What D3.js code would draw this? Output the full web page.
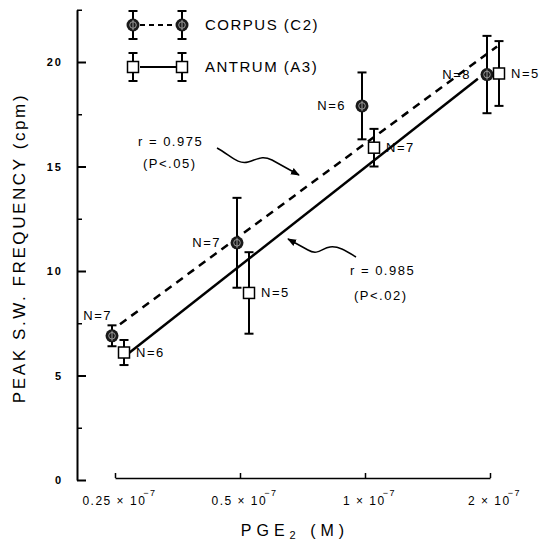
<!DOCTYPE html>
<html>
<head>
<meta charset="utf-8">
<script src="https://cdn.jsdelivr.net/npm/d3@7"></script>
<style>
body { margin: 0; background: #fff; }
svg { display: block; font-family: "Liberation Sans", Arial, sans-serif; }
</style>
</head>
<body>
<svg id="chart" width="545" height="553"></svg>
<script>
// Values
const doses = [0.25, 0.5, 1, 2];
const doseLabels = ["0.25", "0.5", "1", "2"];
const corpusMean = [6.9, 11.35, 17.9, 19.4];
const corpusErr = [0.5, 2.15, 1.6, 1.85];
const corpusN = [7, 7, 6, 8];
const antrumMean = [6.1, 8.95, 15.9, 19.45];
const antrumErr = [0.6, 1.95, 0.9, 1.55];
const antrumN = [6, 5, 7, 5];
const yMajor = [0, 5, 10, 15, 20];
const yMinor = [2.5, 7.5, 12.5, 17.5, 22.5];
const corpusStats = ["r = 0.975", "(P<.05)"];
const antrumStats = ["r = 0.985", "(P<.02)"];
const corpusFitRange = [0.257, 2.08];
const antrumFitRange = [0.264, 1.87];

const svg = d3.select("#chart");
svg.append("rect").attr("width", 545).attr("height", 553).attr("fill", "#fff");

const x = d3.scaleLog().base(2).domain([0.25, 2]).range([115, 490]);
const y = d3.scaleLinear().domain([0, 22.5]).range([480, 9.75]);

// least squares on log2(dose)
function fit(xs, ys) {
    const lx = xs.map(Math.log2);
    const mx = d3.mean(lx), my = d3.mean(ys);
    const b = d3.sum(lx, (v, i) => (v - mx) * (ys[i] - my)) / d3.sum(lx, v => (v - mx) ** 2);
    const a = my - b * mx;
    return d => a + b * Math.log2(d);
}

// Y axis
const yAxis = svg.append("g")
    .attr("transform", "translate(77,0)")
    .call(d3.axisLeft(y).tickValues(yMajor).tickSizeInner(-9).tickSizeOuter(0).tickPadding(14));
yAxis.select(".domain").attr("stroke-width", 2);
yAxis.selectAll(".tick line").attr("stroke-width", 2);
yAxis.selectAll("text")
    .style("font-size", "11px").style("font-weight", "bold").style("letter-spacing", "2px");

svg.append("g")
    .attr("transform", "translate(77,0)")
    .call(d3.axisLeft(y).tickValues(yMinor).tickSizeInner(-5).tickSizeOuter(0).tickFormat(""))
    .call(g => g.select(".domain").remove())
    .selectAll(".tick line").attr("stroke-width", 1.5);

// X axis
const xAxis = svg.append("g")
    .attr("transform", "translate(0,478)")
    .call(d3.axisBottom(x).tickValues(doses).tickSizeInner(-5).tickSizeOuter(0).tickFormat(""));
xAxis.select(".domain").attr("stroke-width", 1.5);
xAxis.selectAll(".tick line").attr("stroke-width", 1.5);
xAxis.selectAll(".tick").append("text")
    .attr("y", 27)
    .attr("x", 4)
    .attr("fill", "#000")
    .attr("text-anchor", "middle")
    .style("font-size", "12px")
    .style("letter-spacing", "1.5px")
    .each(function(d, i) {
        const t = d3.select(this);
        t.append("tspan").text(doseLabels[i] + " \u00d7 10");
        t.append("tspan").attr("dy", -9).attr("dx", -3).style("font-size", "9px").text("\u22127");
    });

// axis titles
svg.append("text")
    .attr("transform", "translate(25,248) rotate(-90)")
    .attr("text-anchor", "middle")
    .style("font-size", "17px")
    .style("letter-spacing", "2.6px")
    .text("PEAK S.W. FREQUENCY (cpm)");

svg.append("text")
    .attr("x", 295).attr("y", 536)
    .attr("text-anchor", "middle")
    .style("font-size", "16px")
    .style("letter-spacing", "5px")
    .html('PGE<tspan dy="3" style="font-size:11px">2</tspan><tspan dy="-3"> (M)</tspan>');

// regression lines
const corpusFit = fit(doses, corpusMean);
const antrumFit = fit(doses, antrumMean);

svg.append("line")
    .attr("x1", x(corpusFitRange[0])).attr("y1", y(corpusFit(corpusFitRange[0])))
    .attr("x2", x(corpusFitRange[1])).attr("y2", y(corpusFit(corpusFitRange[1])))
    .attr("stroke", "#000").attr("stroke-width", 2.5).attr("stroke-dasharray", "8,6");

svg.append("line")
    .attr("x1", x(antrumFitRange[0])).attr("y1", y(antrumFit(antrumFitRange[0])))
    .attr("x2", x(antrumFitRange[1])).attr("y2", y(antrumFit(antrumFitRange[1])))
    .attr("stroke", "#000").attr("stroke-width", 2.5);

// error bars
function errorBar(g, cx, top, bottom) {
    g.append("line").attr("x1", cx).attr("x2", cx).attr("y1", top).attr("y2", bottom)
        .attr("stroke", "#000").attr("stroke-width", 2);
    [top, bottom].forEach(v => {
        g.append("line").attr("x1", cx - 4.5).attr("x2", cx + 4.5).attr("y1", v).attr("y2", v)
            .attr("stroke", "#000").attr("stroke-width", 2);
    });
}

function corpusMark(g, cx, cy) {
    g.append("circle").attr("cx", cx).attr("cy", cy).attr("r", 6.5).attr("fill", "#1a1a1a");
    g.append("circle").attr("cx", cx).attr("cy", cy).attr("r", 3.3)
        .attr("fill", "none").attr("stroke", "#999").attr("stroke-width", 1);
    g.append("line").attr("x1", cx).attr("x2", cx).attr("y1", cy - 5).attr("y2", cy + 5)
        .attr("stroke", "#999").attr("stroke-width", 1);
}

function antrumMark(g, cx, cy) {
    g.append("rect").attr("x", cx - 5.5).attr("y", cy - 5.5).attr("width", 11).attr("height", 11)
        .attr("fill", "#fff").attr("stroke", "#000").attr("stroke-width", 1.5);
}

const corpusDx = -3, antrumDx = 9;
const labelStyle = sel => sel.style("font-size", "13px").style("letter-spacing", "1.5px");

const corpusG = svg.append("g");
doses.forEach((d, i) => {
    const cx = x(d) + corpusDx;
    errorBar(corpusG, cx, y(corpusMean[i] + corpusErr[i]), y(corpusMean[i] - corpusErr[i]));
    corpusMark(corpusG, cx, y(corpusMean[i]));
    corpusG.append("text")
        .attr("x", i === 0 ? cx : cx - 16)
        .attr("y", y(corpusMean[i]) + (i === 0 ? -20 : 0))
        .attr("dy", "0.35em")
        .attr("text-anchor", "end")
        .call(labelStyle)
        .text("N=" + corpusN[i]);
});

const antrumG = svg.append("g");
doses.forEach((d, i) => {
    const cx = x(d) + antrumDx;
    errorBar(antrumG, cx, y(antrumMean[i] + antrumErr[i]), y(antrumMean[i] - antrumErr[i]));
    antrumMark(antrumG, cx, y(antrumMean[i]));
    antrumG.append("text")
        .attr("x", cx + 12)
        .attr("y", y(antrumMean[i]))
        .attr("dy", "0.35em")
        .call(labelStyle)
        .text("N=" + antrumN[i]);
});

// r / P annotations with wavy arrows
svg.append("defs").append("marker")
    .attr("id", "head")
    .attr("viewBox", "0 0 10 10")
    .attr("refX", 9).attr("refY", 5)
    .attr("markerWidth", 6).attr("markerHeight", 6)
    .attr("orient", "auto-start-reverse")
    .append("path").attr("d", "M0,1 L10,5 L0,9 Z").attr("fill", "#000");

svg.append("path")
    .attr("d", "M217,148 C230,155 238,165 248,162 C258,159 262,155 272,160 L299,175")
    .attr("fill", "none").attr("stroke", "#000").attr("stroke-width", 1.5)
    .attr("marker-end", "url(#head)");

svg.append("path")
    .attr("d", "M356,257 C345,250 338,246 330,247 C322,248 318,256 308,250 L288,239")
    .attr("fill", "none").attr("stroke", "#000").attr("stroke-width", 1.5)
    .attr("marker-end", "url(#head)");

corpusStats.forEach((s, i) => {
    svg.append("text").attr("x", 138 + i * 5).attr("y", 146 + i * 22)
        .style("font-size", "13px").style("letter-spacing", "1.5px").text(s);
});
antrumStats.forEach((s, i) => {
    svg.append("text").attr("x", 350 + i * 4).attr("y", 275 + i * 25)
        .style("font-size", "13px").style("letter-spacing", "1.5px").text(s);
});

// legend
const legend = svg.append("g");
const legendRows = [
    { name: "CORPUS (C2)", mark: corpusMark, dash: "5,4", cy: 25 },
    { name: "ANTRUM (A3)", mark: antrumMark, dash: null, cy: 67 }
];
legendRows.forEach(r => {
    legend.append("line")
        .attr("x1", 140).attr("x2", 176).attr("y1", r.cy).attr("y2", r.cy)
        .attr("stroke", "#000").attr("stroke-width", 2)
        .attr("stroke-dasharray", r.dash);
    [133, 182].forEach(cx => {
        errorBar(legend, cx, r.cy - 14, r.cy + 14);
        r.mark(legend, cx, r.cy);
    });
    legend.append("text")
        .attr("x", 205).attr("y", r.cy).attr("dy", "0.35em")
        .style("font-size", "15px").style("letter-spacing", "1.5px")
        .text(r.name);
});
</script>
</body>
</html>
